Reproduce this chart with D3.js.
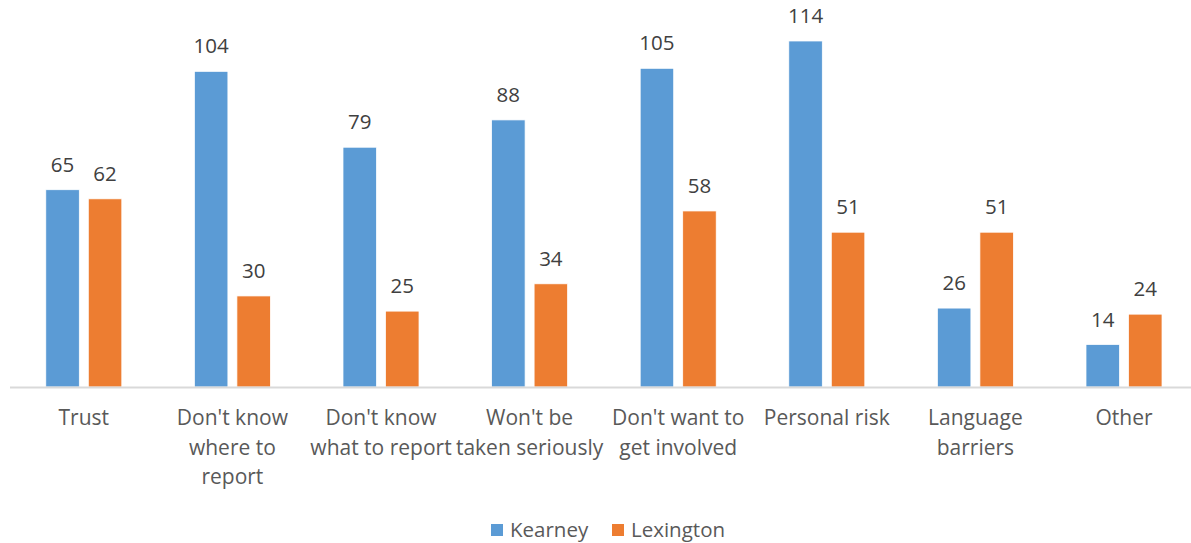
<!DOCTYPE html>
<html><head><meta charset="utf-8">
<script src="https://cdn.jsdelivr.net/npm/d3@7"></script>
<style>
html,body{margin:0;padding:0;background:#fff;}
svg{display:block;}
text{font-family:"Open Sans",Lato,sans-serif;}
</style></head>
<body>
<script>
const categories = ["Trust","Don't know where to report","Don't know what to report","Won't be taken seriously","Don't want to get involved","Personal risk","Language barriers","Other"];
const categoryLines = [["Trust"],["Don't know","where to","report"],["Don't know","what to report"],["Won't be","taken seriously"],["Don't want to","get involved"],["Personal risk"],["Language","barriers"],["Other"]];
const seriesNames = ["Kearney","Lexington"];
const kearney = [65,104,79,88,105,114,26,14];
const lexington = [62,30,25,34,58,51,51,24];
const colors = ["#5B9BD5","#ED7D31"];

const W = 1191, H = 543;
const svg = d3.select("body").append("svg").attr("width",W).attr("height",H);

const x0 = 9.5, step = 148.6;
const x = d3.scaleBand().domain(categories).range([x0, x0 + step*categories.length]).paddingInner(0.4885).paddingOuter(0.4885/2);
const xs = d3.scaleBand().domain(seriesNames).range([0, x.bandwidth()]).paddingInner(0.212);
const y = d3.scaleLinear().domain([0,114]).range([387,41]);

const data = categories.map((c,i)=>({cat:c, vals:[{s:"Kearney",v:kearney[i]},{s:"Lexington",v:lexington[i]}]}));

const g = svg.append("g");
const groups = g.selectAll("g.grp").data(data).join("g").attr("class","grp")
  .attr("transform", d=>`translate(${x(d.cat)},0)`);
groups.selectAll("rect").data(d=>d.vals).join("rect")
  .attr("x", d=>xs(d.s)).attr("width", xs.bandwidth())
  .attr("y", d=>y(d.v)).attr("height", d=>y(0)-y(d.v))
  .attr("fill", (d,i)=>colors[i]).attr("stroke","#fff").attr("stroke-width",0.75);
groups.selectAll("text.val").data(d=>d.vals).join("text").attr("class","val")
  .attr("x", d=>xs(d.s)+xs.bandwidth()/2).attr("y", d=>y(d.v)-18)
  .attr("text-anchor","middle").attr("font-size",20.5).attr("fill","#404040")
  .text(d=>d.v);

// axis
const axis = d3.axisBottom(x).tickSize(0).tickFormat("");
const ax = svg.append("g").attr("transform","translate(0,387)").call(axis);
ax.select(".domain").attr("stroke","#d9d9d9").attr("stroke-width",2);

// category labels
categories.forEach((c,i)=>{
  const t = svg.append("text").attr("text-anchor","middle").attr("font-size",21).attr("fill","#595959")
    .attr("x", x(c)+x.bandwidth()/2).attr("y", 425);
  categoryLines[i].forEach((ln,j)=>{
    t.append("tspan").attr("x", x(c)+x.bandwidth()/2).attr("dy", j===0?0:29.5).text(ln);
  });
});

// legend
const leg = svg.append("g");
const legX = [491, 612];
seriesNames.forEach((s,i)=>{
  leg.append("rect").attr("x",legX[i]).attr("y",524).attr("width",12).attr("height",12).attr("fill",colors[i]);
  leg.append("text").attr("x",legX[i]+19).attr("y",537).attr("font-size",20.5).attr("fill","#595959").text(s);
});
</script>
</body></html>
